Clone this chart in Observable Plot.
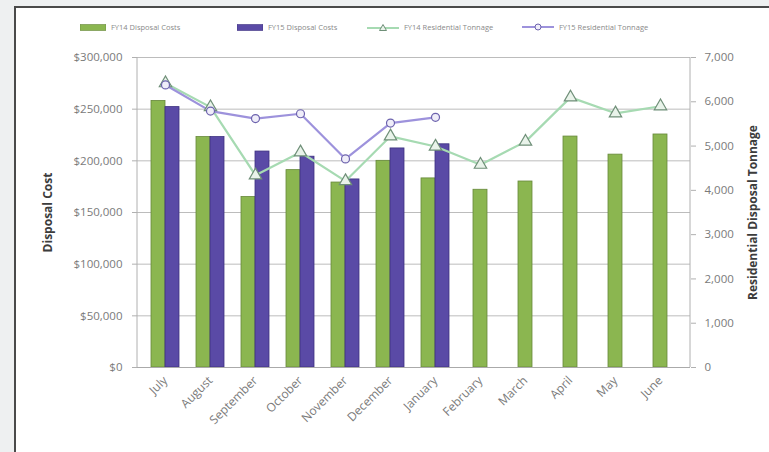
<!DOCTYPE html>
<html>
<head>
<meta charset="utf-8">
<script src="https://cdn.jsdelivr.net/npm/d3@7"></script>
<script src="https://cdn.jsdelivr.net/npm/@observablehq/plot@0.6"></script>
<style>
  body { margin:0; background:#eef0f1; font-family:"Open Sans", sans-serif; }
  #frame { position:absolute; left:14px; top:6px; width:760px; height:450px; background:#fff; border-left:2px solid #4a4a4a; border-top:2px solid #4a4a4a; }
  #chart { position:absolute; left:0; top:40px; }
  #legend { position:absolute; left:0; top:21px; width:769px; height:14px; font-size:7.5px; color:#8a8a8a; white-space:nowrap; }
  .item { position:absolute; top:0; display:flex; align-items:center; height:12px; }
  .sw { display:inline-block; margin-right:5px; }
</style>
</head>
<body>
<div id="frame"></div>
<div id="legend"></div>
<div id="chart"></div>
<script>
const months = ["July","August","September","October","November","December","January","February","March","April","May","June"];
const cost14 = [258000, 223000, 165000, 191000, 179000, 200000, 183000, 172000, 180000, 223500, 206000, 225500];
const cost15 = [252000, 223000, 209000, 204000, 182000, 212000, 216000];
const ton14 = [6420, 5880, 4340, 4860, 4210, 5220, 4990, 4580, 5100, 6100, 5740, 5900];
const ton15 = [6380, 5790, 5620, 5730, 4710, 5520, 5650];
const seriesNames = ["FY14 Disposal Costs","FY15 Disposal Costs","FY14 Residential Tonnage","FY15 Residential Tonnage"];
const costTicks = [0, 50000, 100000, 150000, 200000, 250000, 300000];
const tonTicks = [0, 1000, 2000, 3000, 4000, 5000, 6000, 7000];

const green = "#8bb650", greenDark = "#66883a";
const purple = "#5a4aa6", purpleDark = "#3d3180";
const mint = "#a6dab2", mintDark = "#6f8f78";
const lav = "#9d92dc", lavDark = "#6c62ad";

const k = 300000 / 7000; // tonnage -> cost axis
const paired = cost15.length;
const g14pair = months.slice(0, paired).map((m, i) => ({month: m, v: cost14[i]}));
const g14solo = months.slice(paired).map((m, i) => ({month: m, v: cost14[i + paired]}));
const p15 = cost15.map((v, i) => ({month: months[i], v}));
const t14 = ton14.map((v, i) => ({month: months[i], v: v * k}));
const t15 = ton15.map((v, i) => ({month: months[i], v: v * k}));

const chart = Plot.plot({
  width: 769, height: 412,
  marginLeft: 137, marginRight: 79, marginTop: 17, marginBottom: 85,
  style: {background: "none", fontFamily: "'Open Sans', sans-serif", fontSize: "11.5px", color: "#7a7a7a"},
  x: {type: "band", domain: months, range: [139, 685], paddingInner: 0.383, paddingOuter: 0.19},
  y: {domain: [0, 300000]},
  marks: [
    Plot.ruleY(costTicks, {stroke: "#bcbcbc", strokeWidth: 1}),
    Plot.barY(g14pair, {x: "month", y: "v", fill: green, stroke: greenDark, strokeWidth: 0.8, insetLeft: 0, insetRight: 14}),
    Plot.barY(p15, {x: "month", y: "v", fill: purple, stroke: purpleDark, strokeWidth: 0.8, insetLeft: 14, insetRight: 0}),
    Plot.barY(g14solo, {x: "month", y: "v", fill: green, stroke: greenDark, strokeWidth: 0.8, insetLeft: 7, insetRight: 7}),
    Plot.line(t14, {x: "month", y: "v", stroke: mint, strokeWidth: 2.2}),
    Plot.line(t15, {x: "month", y: "v", stroke: lav, strokeWidth: 2.2}),
    Plot.dot(t14, {x: "month", y: "v", symbol: "triangle", r: 4.6, fill: "#e9f3ea", stroke: mintDark, strokeWidth: 1.2}),
    Plot.dot(t15, {x: "month", y: "v", symbol: "circle", r: 4, fill: "#efedf9", stroke: lavDark, strokeWidth: 1.2}),
    Plot.axisY({anchor: "left", ticks: costTicks, tickSize: 5, tickPadding: 10, stroke: "#b0b0b0",
      tickFormat: d => "$" + d3.format(",")(d),
      label: "Disposal Cost", labelAnchor: "center", labelArrow: "none", labelOffset: 94}),
    Plot.axisY({anchor: "right", ticks: tonTicks.map(t => t * k), tickSize: 5, tickPadding: 9, stroke: "#b0b0b0",
      tickFormat: d => d3.format(",")(Math.round(d / k)),
      label: "Residential Disposal Tonnage", labelAnchor: "center", labelArrow: "none", labelOffset: 66}),
    Plot.axisX({tickSize: 0, tickRotate: -45, tickPadding: 11, fontSize: 12, label: null}),
    Plot.ruleY([0], {stroke: "#aaaaaa"})
  ]
});
const svg = d3.select(chart);
svg.selectAll("g[aria-label='y-axis label'] text").attr("font-weight", "bold").attr("fill", "#3c3c3c").attr("font-size", "12px");
svg.append("line").attr("x1", 137).attr("x2", 137).attr("y1", 17).attr("y2", 327).attr("stroke", "#b0b0b0");
svg.append("line").attr("x1", 690).attr("x2", 690).attr("y1", 17).attr("y2", 327).attr("stroke", "#b0b0b0");
document.getElementById("chart").append(chart);

// legend
const lg = document.getElementById("legend");
const lefts = [80, 237, 367, 522];
const mk = (i, html) => { const d = document.createElement("div"); d.className = "item"; d.style.left = lefts[i] + "px"; d.innerHTML = html + `<span>${seriesNames[i]}</span>`; lg.append(d); };
mk(0, `<svg class="sw" width="26" height="7"><rect x="0" y="0.5" width="26" height="6" fill="${green}" stroke="${greenDark}" stroke-width="0.6"/></svg>`);
mk(1, `<svg class="sw" width="26" height="7"><rect x="0" y="0.5" width="26" height="6" fill="${purple}" stroke="${purpleDark}" stroke-width="0.6"/></svg>`);
mk(2, `<svg class="sw" width="32" height="10"><line x1="0" x2="32" y1="6" y2="6" stroke="${mint}" stroke-width="2"/><path d="M16,2.5 L19.5,8.5 L12.5,8.5 Z" fill="#e9f3ea" stroke="${mintDark}" stroke-width="1"/></svg>`);
mk(3, `<svg class="sw" width="32" height="10"><line x1="0" x2="32" y1="5" y2="5" stroke="${lav}" stroke-width="2"/><circle cx="16" cy="5" r="3" fill="#efedf9" stroke="${lavDark}" stroke-width="1"/></svg>`);
</script>
</body>
</html>
